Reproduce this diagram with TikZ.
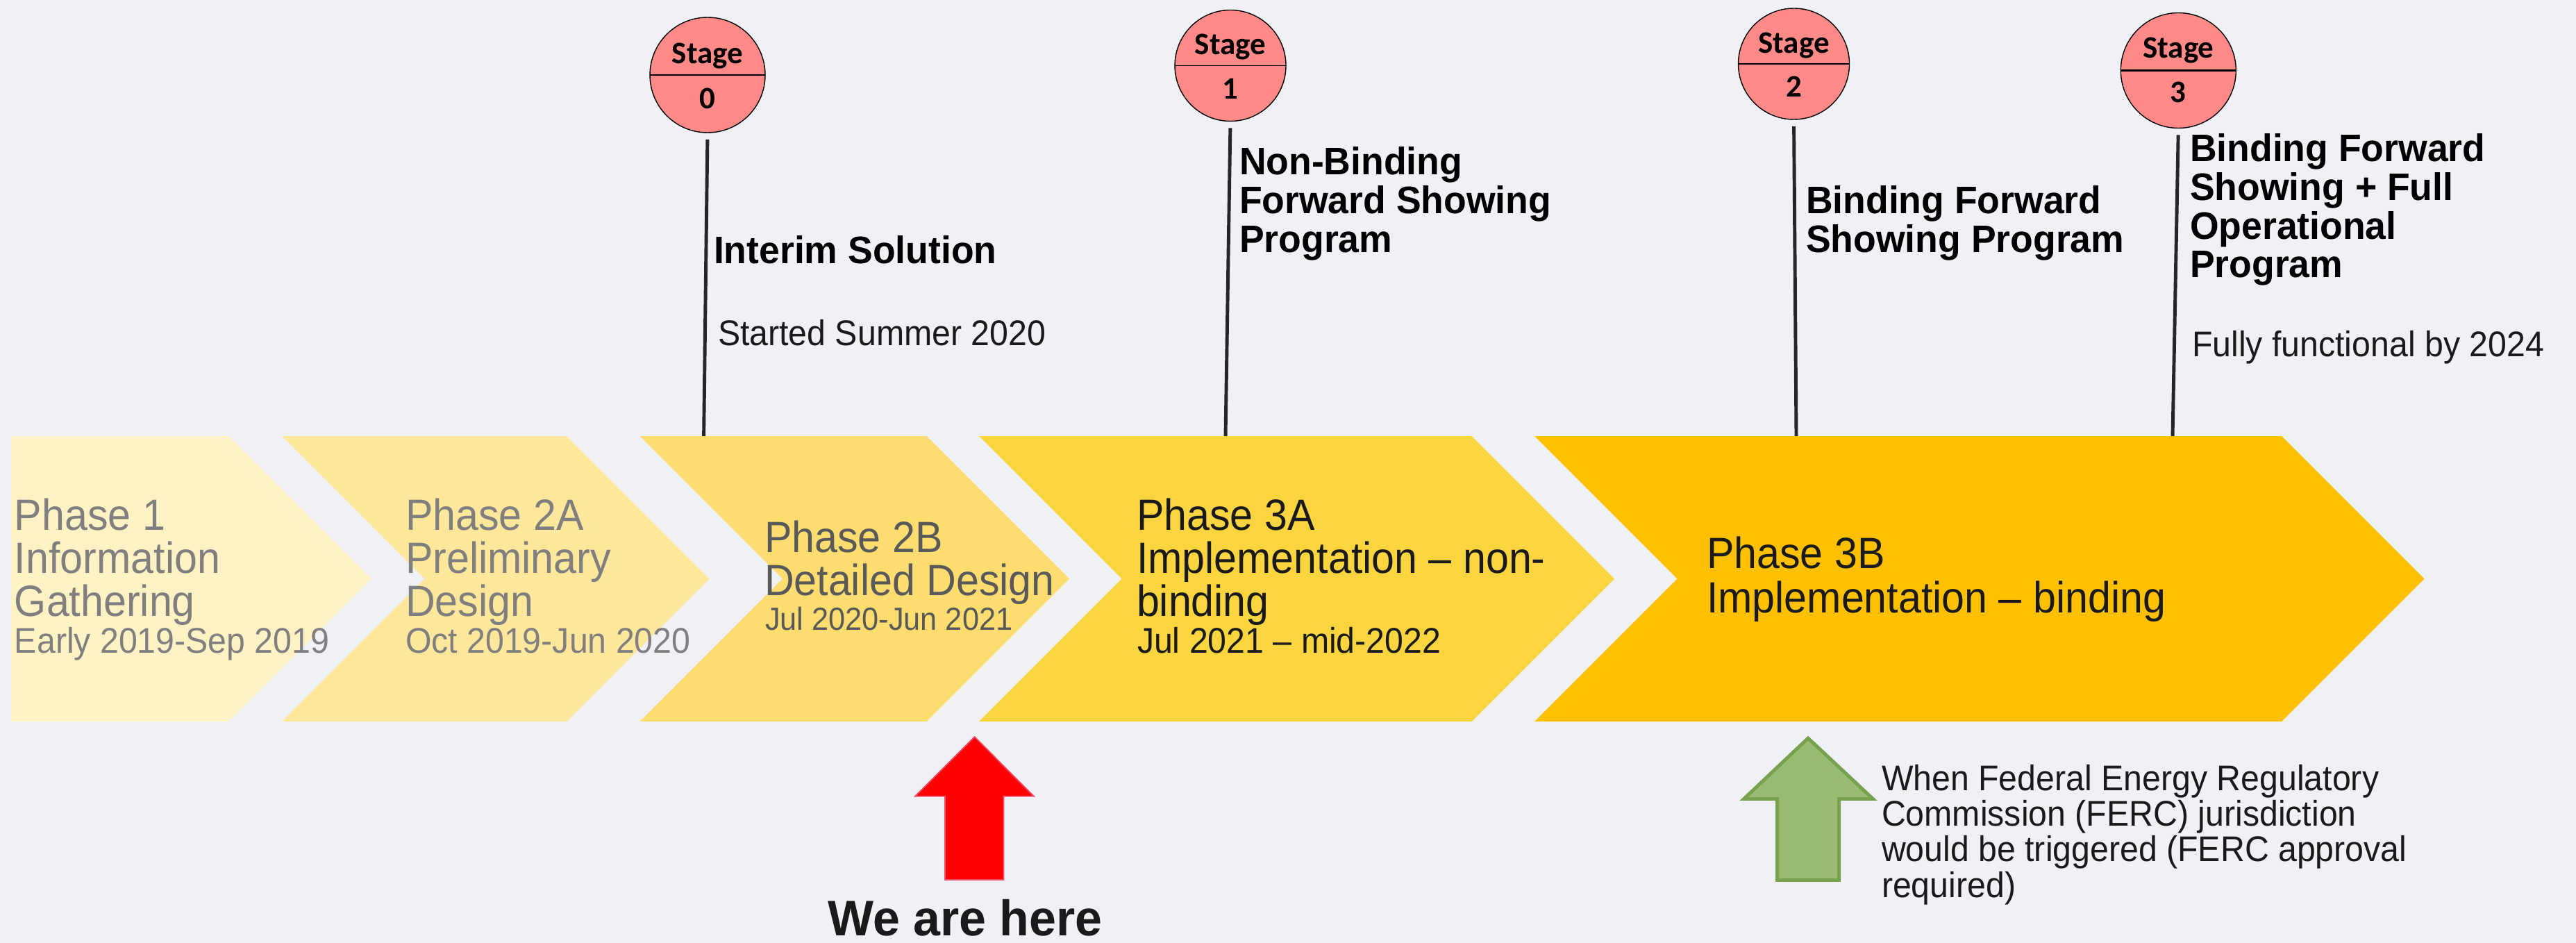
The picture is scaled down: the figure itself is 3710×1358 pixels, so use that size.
\documentclass[tikz,border=0pt]{standalone}
\usepackage{fontspec}
\setmainfont{Liberation Sans}
\newfontfamily\regf{Liberation Sans}[FakeStretch=0.94]
\newfontfamily\bldf{Liberation Sans}[FakeStretch=0.97]
\newfontfamily\stgf{Carlito}
\definecolor{bg}{HTML}{F0F1F5}
\definecolor{chA}{HTML}{FFF2C4}
\definecolor{chB}{HTML}{FFE79B}
\definecolor{chC}{HTML}{FDDD6F}
\definecolor{chD}{HTML}{FBD540}
\definecolor{chE}{HTML}{FFC000}
\definecolor{txA}{HTML}{7F7F7F}
\definecolor{txB}{HTML}{595959}
\definecolor{txC}{HTML}{1A1A1A}
\definecolor{stagefill}{HTML}{FF8A88}
\definecolor{stemc}{HTML}{262626}
\definecolor{redline}{HTML}{F0506E}
\definecolor{gfill}{HTML}{9BBA74}
\definecolor{gline}{HTML}{77A04F}
\newcommand\chevron[3]{\fill[#1] (#2,628) -- (#3,628) -- ({#3+205.5},833.5) -- (#3,1039) -- (#2,1039) -- ({#2+205.5},833.5) -- cycle;}
\begin{document}
\begin{tikzpicture}[x=0.01cm,y=-0.01cm,
  txt/.style={anchor=base west, inner sep=0pt, outer sep=0pt},
  phasebig/.style={txt, font=\regf\fontsize{17.9}{17.64}\selectfont},
  phasedate/.style={txt, font=\regf\fontsize{14.6}{14.6}\selectfont},
  boldlab/.style={txt, text=black, font=\bldf\bfseries\fontsize{15.7}{15.8}\selectfont},
  sublab/.style={txt, text=txC, font=\regf\fontsize{14.6}{14.6}\selectfont},
  stage/.style={circle, draw=black, line width=0.4pt, fill=stagefill, inner sep=0pt, outer sep=0pt},
  stagetxt/.style={anchor=base, inner sep=0pt, text=black, font=\stgf\bfseries\fontsize{12.8}{13}\selectfont},
  stem/.style={draw=stemc, line width=1.4pt, shorten <=2.8pt}
]
\useasboundingbox (0,0) rectangle (3710,1358);
\fill[bg] (0,0) rectangle (3710,1358);

% chevrons
\fill[chA] (16,628) -- (329,628) -- (534.5,833.5) -- (329,1039) -- (16,1039) -- cycle;
\chevron{chB}{406}{816}
\chevron{chC}{921.5}{1334.5}
\chevron{chD}{1410}{2119.5}
\chevron{chE}{2210}{3286}

% phase texts
\node[phasebig, text=txA] (p1) at (21,763) {\vtop{\hbox{Phase 1}\hbox{Information}\hbox{Gathering}}};
\node[phasedate, text=txA] (p1d) at (21,940) {Early 2019-Sep 2019};
\node[phasebig, text=txA] (p2a) at (584,763) {\vtop{\hbox{Phase 2A}\hbox{Preliminary}\hbox{Design}}};
\node[phasedate, text=txA] (p2ad) at (584,940) {Oct 2019-Jun 2020};
\node[phasebig, text=txB, font=\regf\fontsize{17.9}{17.9}\selectfont] (p2b) at (1101,795) {\vtop{\hbox{Phase 2B}\hbox{Detailed Design}}};
\node[phasedate, text=txB, font=\regf\fontsize{13.1}{13.1}\selectfont] (p2bd) at (1102,907) {Jul 2020-Jun 2021};
\node[phasebig, text=txC] (p3a) at (1637,763) {\vtop{\hbox{Phase 3A}\hbox{Implementation – non-}\hbox{binding}}};
\node[phasedate, text=txC] (p3ad) at (1638,940) {Jul 2021 – mid-2022};
\node[phasebig, text=txC, font=\regf\fontsize{17.9}{18.2}\selectfont] (p3b) at (2458,818) {\vtop{\hbox{Phase 3B}\hbox{Implementation – binding}}};

% stage markers
\node[stage, minimum size=47.2pt] (s0) at (1019,108) {};
\node[stage, minimum size=45.5pt] (s1) at (1772,94.5) {};
\node[stage, minimum size=45.5pt] (s2) at (2583.5,92) {};
\node[stage, minimum size=47.2pt] (s3) at (3137.3,101.5) {};
\draw[line width=0.4pt] (s0.west) -- (s0.east);
\draw[line width=0.4pt] (s1.west) -- (s1.east);
\draw[line width=0.4pt] (s2.west) -- (s2.east);
\draw[line width=0.7pt] (s3.west) -- (s3.east);
\node[stagetxt] (s0a) at (1019,91.7) {Stage};
\node[stagetxt] (s0b) at (1019,156.7) {0};
\node[stagetxt] (s1a) at (1772,78.5) {Stage};
\node[stagetxt] (s1b) at (1772,142.5) {1};
\node[stagetxt] (s2a) at (2583.5,77) {Stage};
\node[stagetxt] (s2b) at (2583.5,140) {2};
\node[stagetxt] (s3a) at (3137.3,83.3) {Stage};
\node[stagetxt] (s3b) at (3137.3,148) {3};

% stems
\coordinate (b0) at (1013.6,628);
\coordinate (b1) at (1765,628);
\coordinate (b2) at (2587,628);
\coordinate (b3) at (3129,628);
\draw[stem] (s0.south) -- (b0);
\draw[stem] (s1.south) -- (b1);
\draw[stem] (s2.south) -- (b2);
\draw[stem] (s3.south) -- (b3);

% stage labels
\node[boldlab] (l0) at (1028,379.5) {Interim Solution};
\node[sublab] (l0s) at (1034,497) {Started Summer 2020};
\node[boldlab] (l1) at (1785,252) {\vtop{\hbox{Non-Binding}\hbox{Forward Showing}\hbox{Program}}};
\node[boldlab] (l2) at (2601,308) {\vtop{\hbox{Binding Forward}\hbox{Showing Program}}};
\node[boldlab] (l3) at (3154,233) {\vtop{\hbox{Binding Forward}\hbox{Showing + Full}\hbox{Operational}\hbox{Program}}};
\node[sublab] (l3s) at (3157,513) {Fully functional by 2024};

% we are here arrow
\filldraw[fill=red, draw=redline, line width=0.5pt] (1403.6,1061) -- (1489,1146.7) -- (1445.5,1146.7) -- (1445.5,1267) -- (1361,1267) -- (1361,1146.7) -- (1318,1146.7) -- cycle;
\node[txt, anchor=base, text depth=0pt, text=txC, font=\bldf\bfseries\fontsize{20.5}{21}\selectfont] (here) at (1390,1347) {We are here};

% FERC arrow
\filldraw[fill=gfill, draw=gline, line width=1.4pt] (2604,1063) -- (2697.5,1150.5) -- (2648.5,1150.5) -- (2648.5,1267.5) -- (2559.5,1267.5) -- (2559.5,1150.5) -- (2511.5,1150.5) -- cycle;
\node[sublab, font=\regf\fontsize{14.6}{14.6}\selectfont] (ferc) at (2710,1138) {\vtop{\hbox{When Federal Energy Regulatory}\hbox{Commission (FERC) jurisdiction}\hbox{would be triggered (FERC approval}\hbox{required)}}};
\end{tikzpicture}
\end{document}
